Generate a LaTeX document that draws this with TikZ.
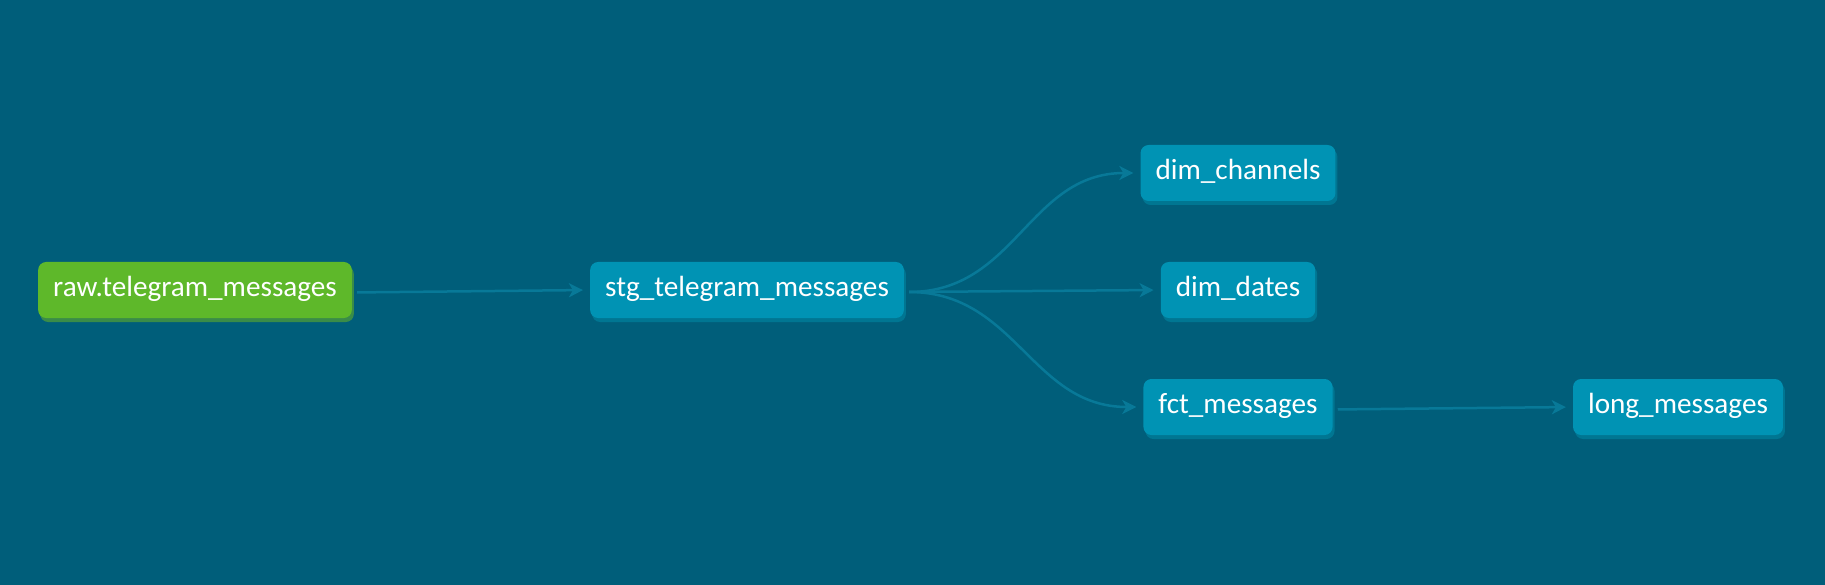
\documentclass[tikz,border=0pt]{standalone}
\usepackage{fontspec}
\setmainfont{Carlito}
\usetikzlibrary{arrows.meta,shadows}
\definecolor{dbtbg}{RGB}{0,94,122}
\definecolor{dbtnode}{RGB}{0,147,180}
\definecolor{dbtnodeshadow}{RGB}{0,118,146}
\definecolor{dbtsource}{RGB}{94,184,42}
\definecolor{dbtsourceshadow}{RGB}{58,140,72}
\definecolor{dbtedge}{RGB}{8,121,152}
\tikzset{
  box/.style={rounded corners=8pt, text=white, minimum height=56pt, inner xsep=15pt,
    text height=20pt, text depth=6.6pt, font=\fontsize{29.2}{32}\selectfont},
  model/.style={box, fill=dbtnode,
    drop shadow={shadow xshift=2pt, shadow yshift=-4pt, fill=dbtnodeshadow, opacity=1}},
  source/.style={box, fill=dbtsource,
    drop shadow={shadow xshift=2pt, shadow yshift=-4pt, fill=dbtsourceshadow, opacity=1}},
  dep/.style={draw=dbtedge, line width=2.5pt, -{Stealth[length=14pt,width=14pt,inset=4pt]},
    shorten <=5pt, shorten >=7pt}
}

\begin{document}
\begin{tikzpicture}[x=1pt, y=-1pt]
  \fill [dbtbg] (0,0) rectangle (1825,585);
  \useasboundingbox (0,0) rectangle (1825,585);

  % lineage nodes
  \node [source] (raw) at (195,290) {raw.telegram\_messages};
  \node [model] (stg) at (747,290) {stg\_telegram\_messages};
  \node [model] (dimch) at (1238,173) {dim\_channels};
  \node [model] (dimdt) at (1238,290) {dim\_dates};
  \node [model] (fct) at (1238,407) {fct\_messages};
  \node [model] (long) at (1678,407) {long\_messages};

  % dependencies
  \draw [dep] ([yshift=-2.5pt]raw.east) -- (stg.west);
  \draw [dep] ([yshift=-2pt]stg.east) .. controls +(112,0) and +(-112,0) .. (dimch.west);
  \draw [dep] ([yshift=-2pt]stg.east) -- (dimdt.west);
  \draw [dep] ([yshift=-2pt]stg.east) .. controls +(112,0) and +(-112,0) .. (fct.west);
  \draw [dep] ([yshift=-2.5pt]fct.east) -- (long.west);
\end{tikzpicture}
\end{document}
